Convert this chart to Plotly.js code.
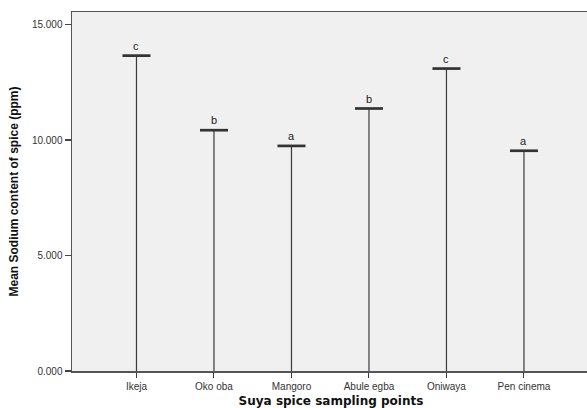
<!DOCTYPE html>
<html>
<head>
<meta charset="utf-8">
<script src="https://cdn.plot.ly/plotly-3.0.1.min.js"></script>
<style>
html,body{margin:0;padding:0;overflow:hidden;background:#fff;}
#chart{width:590px;height:408px;}
</style>
</head>
<body>
<div id="chart"></div>
<script>
var categories = ["Ikeja", "Oko oba", "Mangoro", "Abule egba", "Oniwaya", "Pen cinema"];
var means = [13.66, 10.43, 9.75, 11.37, 13.10, 9.54];
var letters = ["c", "b", "a", "b", "c", "a"];
var yTickVals = [0, 5, 10, 15];
var yTickText = ["0.000", "5.000", "10.000", "15.000"];

var lineX = [], lineY = [];
categories.forEach(function (c, i) {
  lineX.push(c, c, null);
  lineY.push(0, means[i], null);
});

var stems = {
  x: lineX, y: lineY, type: "scatter", mode: "lines",
  line: {color: "#3a3a3a", width: 1.2},
  hoverinfo: "skip", showlegend: false
};
var caps = {
  x: categories, y: means, type: "scatter", mode: "markers",
  marker: {symbol: "line-ew", size: 20, line: {color: "#333333", width: 2.7}},
  showlegend: false
};

var annotations = categories.map(function (c, i) {
  return {
    x: c, y: means[i], xref: "x", yref: "y", text: letters[i],
    showarrow: false, yshift: 10,
    font: {family: "Liberation Sans, Arial, sans-serif", size: 11, color: "#222"}
  };
});

var layout = {
  width: 590, height: 408,
  margin: {l: 72, r: 0, t: 12, b: 37},
  paper_bgcolor: "#ffffff",
  plot_bgcolor: "#f0f0f0",
  showlegend: false,
  xaxis: {
    type: "category",
    range: [-0.832, 5.852],
    showgrid: false, zeroline: false,
    showline: true, linecolor: "#555555", linewidth: 1.5, mirror: true,
    ticks: "outside", ticklen: 5, tickcolor: "#3a3a3a", tickwidth: 1,
    tickfont: {family: "Liberation Sans, Arial, sans-serif", size: 10, color: "#333"},
    title: {text: "Suya spice sampling points", standoff: 6,
      font: {family: "DejaVu Sans, Verdana, sans-serif", size: 12, color: "#111", weight: "bold"}}
  },
  yaxis: {
    range: [0, 15.55],
    tickvals: yTickVals, ticktext: yTickText,
    showgrid: false, zeroline: false,
    showline: true, linecolor: "#555555", linewidth: 1.5,
    ticks: "outside", ticklen: 6, tickcolor: "#444", tickwidth: 1.5,
    tickfont: {family: "Liberation Sans, Arial, sans-serif", size: 10, color: "#333"},
    title: {text: "Mean Sodium content of spice (ppm)", standoff: 10,
      font: {family: "Liberation Sans, Arial, sans-serif", size: 12, color: "#111", weight: "bold"}}
  },
  annotations: annotations
};

Plotly.newPlot("chart", [stems, caps], layout, {displayModeBar: false, staticPlot: true});
</script>
</body>
</html>
